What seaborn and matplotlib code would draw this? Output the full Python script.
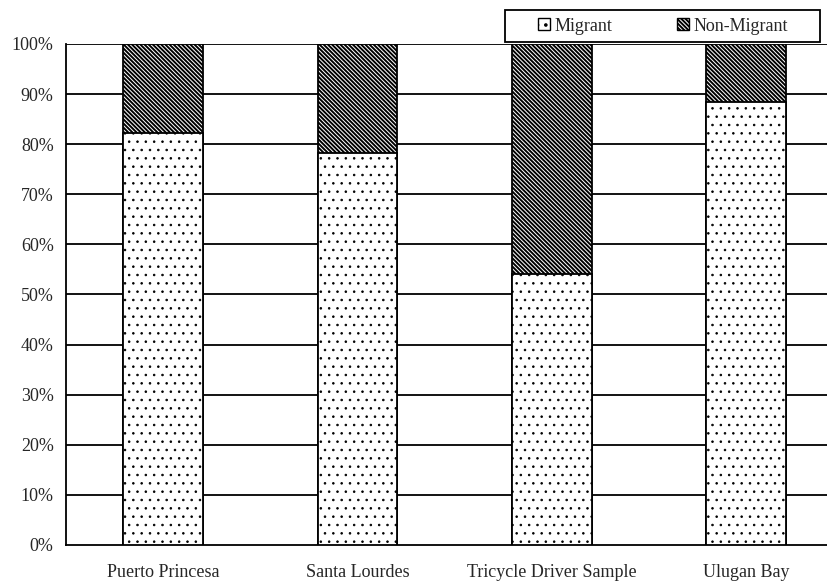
import numpy as np
import pandas as pd
import matplotlib
matplotlib.use("Agg")
from matplotlib import pyplot as plt
from matplotlib.patches import Patch, Rectangle
import seaborn as sns

# Share of respondents by migrant status
sites = ['Puerto Princesa', 'Santa Lourdes', 'Tricycle Driver Sample', 'Ulugan Bay']
migrant = [82.3, 78.2, 54.0, 88.5]
non_migrant = [100 - m for m in migrant]

df = pd.DataFrame({'site': sites, 'migrant': migrant, 'non_migrant': non_migrant})
df['total'] = df['migrant'] + df['non_migrant']

sns.set_style('white')
plt.rcParams['font.family'] = ['Liberation Serif', 'DejaVu Serif']
plt.rcParams['hatch.linewidth'] = 1.4

fig = plt.figure(figsize=(8.27, 5.86), dpi=100)
ax = fig.add_axes([0.08, 0.07, 0.93, 0.855])

# full bar drawn hatched (non-migrant), migrant part painted over it
sns.barplot(data=df, x='site', y='total', color='white', edgecolor='black',
            linewidth=1.3, hatch='\\' * 8, width=0.41, ax=ax, zorder=3)
n_before = len(ax.patches)
sns.barplot(data=df, x='site', y='migrant', color='white', edgecolor='black',
            linewidth=1.3, hatch='..', width=0.41, ax=ax, zorder=4)
# thinner outline for the small dots
for p in ax.patches[n_before:]:
    if hasattr(p, 'set_hatch_linewidth'):
        p.set_hatch_linewidth(0.6)

ax.set_ylim(0, 100)
ax.set_xlim(-0.5, 3.46)
ax.set_yticks(np.arange(0, 101, 10))
ax.set_yticklabels([f'{v}%' for v in range(0, 101, 10)], fontsize=13)
for v in range(10, 101, 10):
    ax.axhline(v, color='black', linewidth=1.3, zorder=1)

ax.set_xticks(range(len(sites)))
ax.set_xticklabels(sites, fontsize=13)
ax.set_xticks([0.5, 1.5, 2.5], minor=True)
ax.tick_params(axis='x', which='major', length=0, pad=14)
ax.tick_params(axis='x', which='minor', length=5, width=1, color='black', direction='out')
ax.tick_params(axis='y', length=6, width=1, color='black', direction='out', pad=3)
ax.set_xlabel('')
ax.set_ylabel('')

for s in ['top', 'right']:
    ax.spines[s].set_visible(False)
for s in ['left', 'bottom']:
    ax.spines[s].set_color('black')
    ax.spines[s].set_linewidth(1.3)

# legend box sits above the plot, top right
fig.patches.append(Rectangle((0.611, 0.928), 0.381, 0.055, transform=fig.transFigure,
                             facecolor='white', edgecolor='black', linewidth=1.3))
mig_handle = Patch(facecolor='white', edgecolor='black', hatch='..', label='Migrant')
if hasattr(mig_handle, 'set_hatch_linewidth'):
    mig_handle.set_hatch_linewidth(0.6)
handles = [mig_handle,
           Patch(facecolor='white', edgecolor='black', hatch='\\' * 8, label='Non-Migrant')]
leg = fig.legend(handles=handles, loc='center', bbox_to_anchor=(0.802, 0.9555), ncol=2,
                 fontsize=13, frameon=False,
                 handlelength=0.65, handleheight=0.65, handletextpad=0.25, columnspacing=3.6,
                 borderpad=0, borderaxespad=0)

fig.savefig('out.png', dpi=100)
